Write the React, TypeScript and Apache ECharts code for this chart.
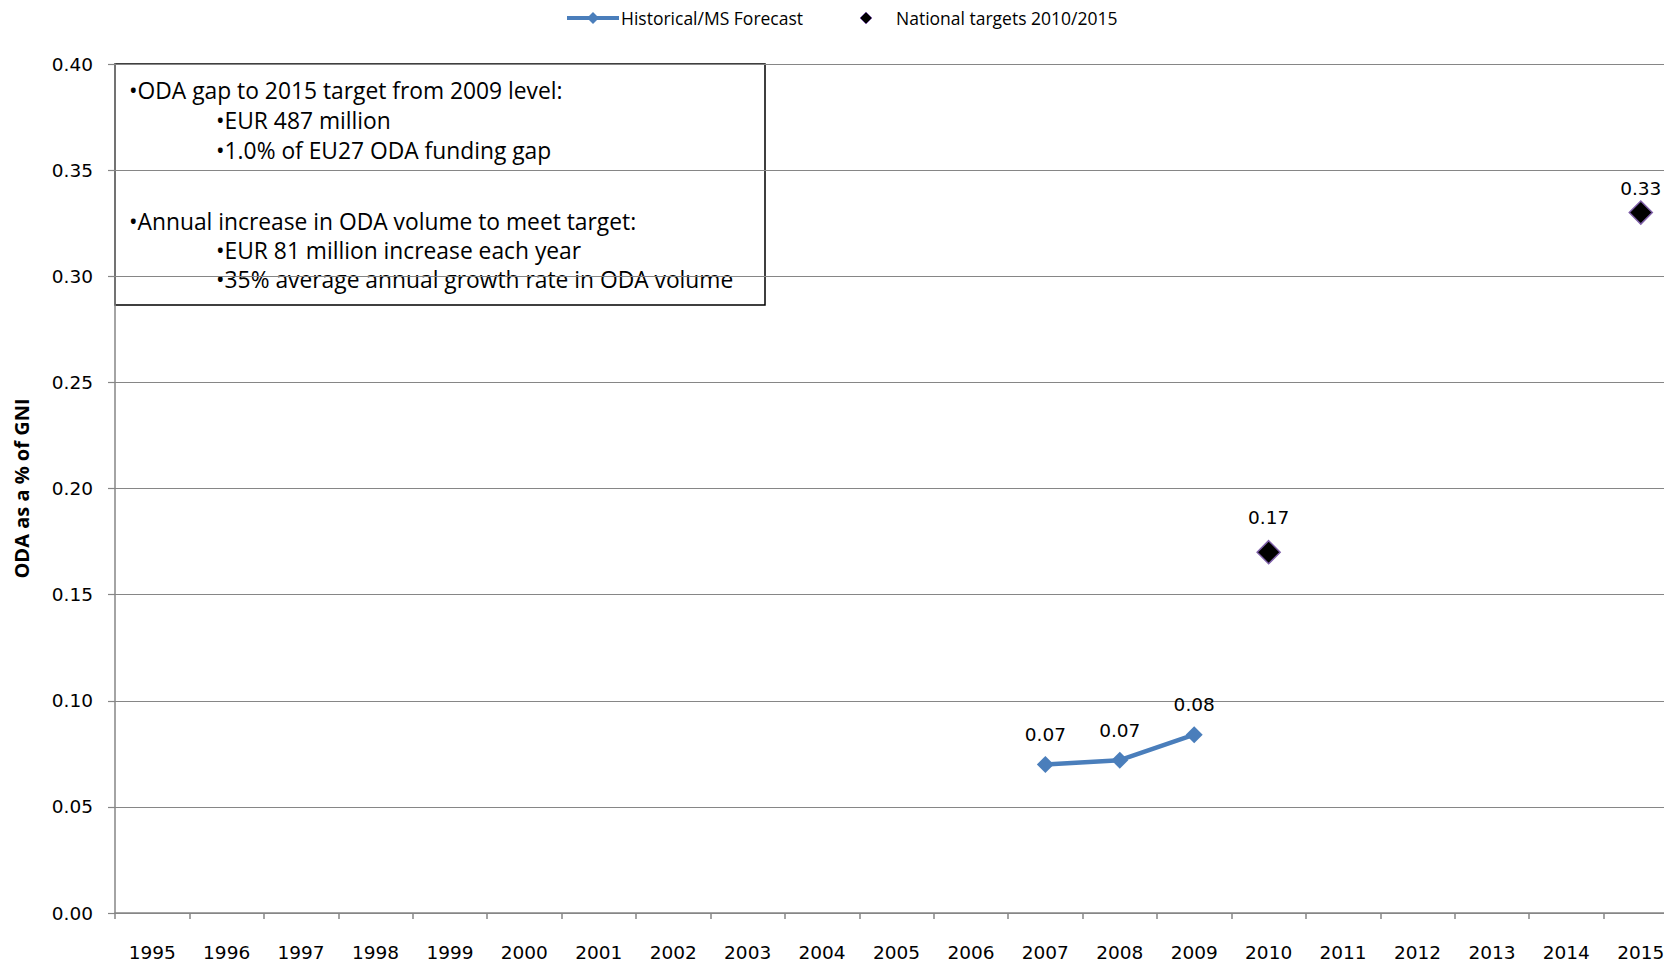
import React, { useEffect, useRef } from "react";
import * as echarts from "echarts";

const years = [
  "1995", "1996", "1997", "1998", "1999", "2000", "2001", "2002", "2003", "2004", "2005",
  "2006", "2007", "2008", "2009", "2010", "2011", "2012", "2013", "2014", "2015",
];
const historicalYears = ["2007", "2008", "2009"];
const historicalValues = [0.07, 0.072, 0.084];
const targetYears = ["2010", "2015"];
const targetValues = [0.17, 0.33];
const yTicks = { min: 0, max: 0.4, interval: 0.05 };

const legendNames = ["Historical/MS Forecast", "National targets 2010/2015"];
const boxLines = [
  "•ODA gap to 2015 target from 2009 level:",
  "•EUR 487 million",
  "•1.0% of EU27 ODA funding gap",
  "•Annual increase in ODA volume to meet target:",
  "•EUR 81 million increase each year",
  "•35% average annual growth rate in ODA volume",
];
const yAxisTitle = "ODA as a % of GNI";

// styling / layout (not data)
const BLUE = "#4A7EBB";
const GRID = "#868686";
const CHART_W = 1720;
const boxLineLayout = [
  { x: 129, y: 90 },
  { x: 216, y: 120 },
  { x: 216, y: 150 },
  { x: 129, y: 221 },
  { x: 216, y: 250 },
  { x: 216, y: 279 },
];
const targetLabelDistance = [13, 2];

export default function App() {
  const ref = useRef<HTMLDivElement>(null);

  useEffect(() => {
    if (!ref.current) return;
    const chart = echarts.init(ref.current, null, { renderer: "svg" });

    const histData = years.map((y) => {
      const i = historicalYears.indexOf(y);
      return i >= 0 ? historicalValues[i] : null;
    });

    const axisFont = { fontFamily: "DejaVu Sans", fontSize: 18.5, color: "#000" };

    const option: any = {
      animation: false,
      backgroundColor: "#fff",
      grid: {
        left: 115,
        top: 64,
        right: CHART_W - 1678,
        bottom: 51,
        containLabel: false,
        outerBoundsMode: "none",
      },
      xAxis: {
        type: "category",
        data: years,
        boundaryGap: true,
        axisLine: { show: true, lineStyle: { color: GRID, width: 1.5 } },
        axisTick: { show: true, length: 6, lineStyle: { color: GRID, width: 1.5 } },
        axisLabel: { ...axisFont, margin: 30, interval: 0 },
        splitLine: { show: false },
      },
      yAxis: {
        type: "value",
        min: yTicks.min,
        max: yTicks.max,
        interval: yTicks.interval,
        name: yAxisTitle,
        nameLocation: "middle",
        nameGap: 84,
        nameTextStyle: {
          fontFamily: "Open Sans",
          fontWeight: "bold",
          fontSize: 20,
          color: "#000",
        },
        axisLine: { show: true, lineStyle: { color: GRID, width: 1.5 } },
        axisTick: { show: true, length: 7, lineStyle: { color: GRID, width: 1.2 } },
        axisLabel: { ...axisFont, margin: 22, formatter: (v: number) => v.toFixed(2) },
        splitLine: { show: true, lineStyle: { color: GRID, width: 1.2 } },
      },
      series: [
        {
          name: legendNames[0],
          type: "line",
          data: histData,
          connectNulls: false,
          symbol: "diamond",
          symbolSize: 17,
          itemStyle: { color: BLUE },
          lineStyle: { color: BLUE, width: 4.5 },
          label: {
            show: true,
            position: "top",
            distance: 12,
            ...axisFont,
            formatter: (p: any) => Number(p.value).toFixed(2),
          },
          z: 3,
        },
        {
          name: legendNames[1],
          type: "scatter",
          data: targetYears.map((y, i) => ({
            value: [y, targetValues[i]],
            label: { distance: targetLabelDistance[i] },
          })),
          symbol: "diamond",
          symbolSize: 23,
          itemStyle: { color: "#000", opacity: 1, borderColor: "#7E5FA8", borderWidth: 1.5 },
          label: {
            show: true,
            position: "top",
            ...axisFont,
            formatter: (p: any) => Number(p.value[1]).toFixed(2),
          },
          z: 3,
        },
      ],
      graphic: [
        // legend
        {
          type: "line",
          shape: { x1: 567, y1: 18, x2: 619, y2: 18 },
          style: { stroke: BLUE, lineWidth: 4 },
        },
        {
          type: "polygon",
          shape: { points: [[593, 12], [599, 18], [593, 24], [587, 18]] },
          style: { fill: BLUE },
        },
        {
          type: "text",
          x: 621,
          y: 18,
          style: {
            text: legendNames[0],
            fontFamily: "Open Sans",
            fontSize: 17.5,
            fill: "#000",
            verticalAlign: "middle",
          },
        },
        {
          type: "polygon",
          shape: { points: [[866, 12], [872, 18], [866, 24], [860, 18]] },
          style: { fill: "#000", stroke: "#7E5FA8", lineWidth: 1 },
        },
        {
          type: "text",
          x: 896,
          y: 18,
          style: {
            text: legendNames[1],
            fontFamily: "Open Sans",
            fontSize: 17.5,
            fill: "#000",
            verticalAlign: "middle",
          },
        },
        // text box
        {
          type: "group",
          z: 100,
          children: [
            {
              type: "rect",
              shape: { x: 115, y: 64, width: 650, height: 241 },
              style: { fill: "#fff", stroke: "#000", lineWidth: 1.5 },
            },
            ...boxLines.map((t, i) => ({
              type: "text",
              x: boxLineLayout[i].x,
              y: boxLineLayout[i].y,
              style: {
                text: t,
                fontFamily: "Open Sans",
                fontSize: 22.8,
                fill: "#000",
                verticalAlign: "middle",
              },
            })),
          ],
        },
      ],
    };

    chart.setOption(option);
    return () => chart.dispose();
  }, []);

  return (
    <div
      style={{
        position: "fixed",
        left: 0,
        top: 0,
        width: 1664,
        height: 964,
        overflow: "hidden",
        background: "#fff",
      }}
    >
      <div ref={ref} style={{ width: CHART_W, height: 964 }} />
    </div>
  );
}
